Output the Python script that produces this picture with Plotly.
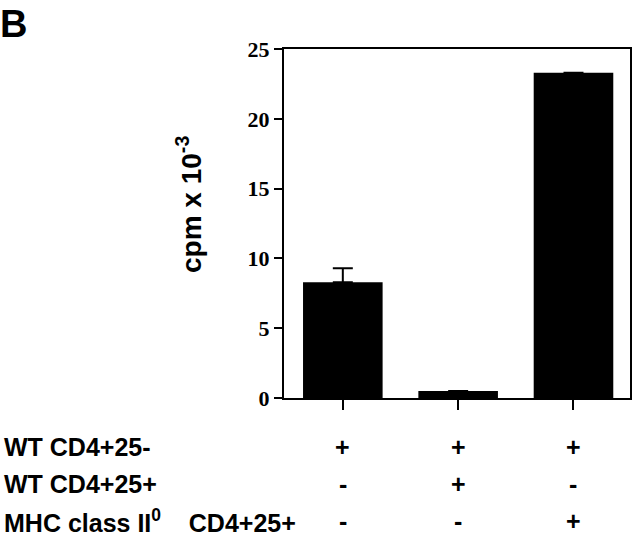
import plotly.graph_objects as go

# Data
conditions = ["A", "B", "C"]
cpm_values = [8.3, 0.5, 23.3]
cpm_error_plus = [1.0, 0, 0]
y_ticks = [0, 5, 10, 15, 20, 25]

row_labels = ["WT CD4+25-", "WT CD4+25+",
              "MHC class II<sup>0</sup>&nbsp;&nbsp;&nbsp;&nbsp;CD4+25+"]
row_wt_cd4_25neg = ["+", "+", "+"]
row_wt_cd4_25pos = ["-", "+", "-"]
row_mhc_cd4_25pos = ["-", "-", "+"]
table_rows = [row_wt_cd4_25neg, row_wt_cd4_25pos, row_mhc_cd4_25pos]

W, H = 640, 535
L, R, T, B = 284, 8, 49, 137
plot_h = H - T - B

fig = go.Figure()
fig.add_trace(go.Bar(
    x=list(range(len(conditions))), y=cpm_values,
    marker=dict(color="black", line=dict(width=0)),
    error_y=dict(type="data", symmetric=False, array=cpm_error_plus,
                 arrayminus=[0, 0, 0], color="black", thickness=2, width=10),
    showlegend=False, hoverinfo="skip",
))

sans = "Liberation Sans, Arial, sans-serif"
serif = "Liberation Serif, Times New Roman, serif"

fig.update_layout(
    width=W, height=H,
    margin=dict(l=L, r=R, t=T, b=B),
    plot_bgcolor="white", paper_bgcolor="white",
    bargap=0.31,
    xaxis=dict(range=[-0.51, 2.49], showline=True, linecolor="black", linewidth=2,
               mirror=True, ticks="outside", ticklen=10, tickwidth=2, tickcolor="black",
               tickvals=list(range(len(conditions))), showticklabels=False,
               showgrid=False, zeroline=False, fixedrange=True),
    yaxis=dict(range=[0, 25], showline=True, linecolor="black", linewidth=2,
               mirror=True, ticks="outside", ticklen=8, tickwidth=2, tickcolor="black",
               tickvals=y_ticks, ticktext=[str(v) for v in y_ticks],
               tickfont=dict(family=serif, size=22, color="black", weight="bold"),
               showgrid=False, zeroline=False, fixedrange=True),
)

annotations = []
# y axis title
annotations.append(dict(
    text="cpm x 10<sup>-3</sup>", textangle=-90, xref="paper", yref="paper",
    x=0, xshift=-95, y=(H - B - 205) / plot_h, xanchor="center", yanchor="middle",
    showarrow=False, font=dict(family=sans, size=28, color="black", weight="bold")))
# panel letter
annotations.append(dict(
    text="B", xref="paper", yref="paper", x=0, xshift=-L - 2, y=1, yshift=T - 1,
    xanchor="left", yanchor="top", showarrow=False,
    font=dict(family=sans, size=38, color="black", weight="bold")))

row_py = [447, 484, 521]
for label, row, py in zip(row_labels, table_rows, row_py):
    annotations.append(dict(
        text=label, xref="paper", yref="paper", x=0, xshift=-L + 2, y=0,
        yshift=-(py - (H - B)), xanchor="left", yanchor="middle", showarrow=False,
        font=dict(family=sans, size=25, color="black", weight="bold")))
    for i, sym in enumerate(row):
        annotations.append(dict(
            text=sym, xref="x", yref="paper", x=i, y=0,
            yshift=-(py - (H - B)), xanchor="center", yanchor="middle", showarrow=False,
            font=dict(family=sans, size=25, color="black", weight="bold")))

fig.update_layout(annotations=annotations)
fig.write_html("out.html", config={"displayModeBar": False},
               post_script="document.body.style.margin='0';document.body.style.overflow='hidden';")
